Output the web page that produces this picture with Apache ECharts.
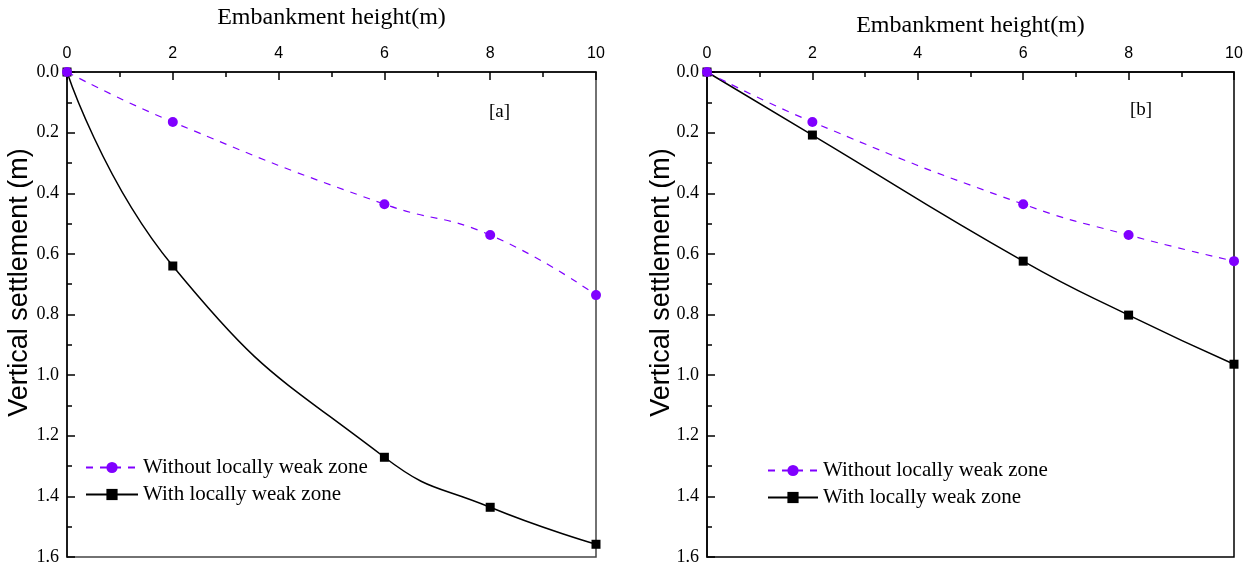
<!DOCTYPE html>
<html>
<head>
<meta charset="utf-8">
<script src="https://cdn.jsdelivr.net/npm/echarts@6/dist/echarts.min.js"></script>
<style>html,body{margin:0;padding:0;background:#fff}#c{width:1254px;height:568px}</style>
</head>
<body>
<div id="c"></div>
<script>
var heights = [0, 2, 6, 8, 10];
var aWithout = [0, 0.165, 0.436, 0.538, 0.736];
var aWith = [0, 0.640, 1.271, 1.436, 1.558];
var bWithout = [0, 0.165, 0.436, 0.538, 0.624];
var bWith = [0, 0.208, 0.624, 0.802, 0.964];
var nameWithout = 'Without locally weak zone';
var nameWith = 'With locally weak zone';
var xTitle = 'Embankment height(m)';
var yTitle = 'Vertical settlement (m)';
var panelLabels = ['[a]', '[b]'];

function pairs(xs, ys) { return xs.map(function (x, i) { return [x, ys[i]]; }); }

var serif = 'Liberation Serif';
var sans = 'Liberation Sans';
var purple = '#8000ff';

function xAx(gi, gap) {
  return {
    type: 'value', gridIndex: gi, position: 'top', min: 0, max: 10, interval: 2,
    name: xTitle, nameLocation: 'middle', nameGap: gap, nameMoveOverlap: false,
    nameTextStyle: { fontFamily: serif, fontSize: 24, color: '#000' },
    axisLine: { show: true, onZero: false, lineStyle: { color: '#000', width: 1.5 } },
    axisTick: { show: true, inside: true, length: 8, lineStyle: { color: '#000', width: 1.5 } },
    minorTick: { show: true, splitNumber: 2, length: 5, lineStyle: { color: '#000', width: 1.5 } },
    axisLabel: { fontFamily: sans, fontSize: 16, color: '#000', margin: 10 },
    splitLine: { show: false }
  };
}
function yAx(gi, gap) {
  return {
    type: 'value', gridIndex: gi, inverse: true, min: 0, max: 1.6, interval: 0.2,
    name: yTitle, nameLocation: 'middle', nameGap: gap, nameRotate: 90, nameMoveOverlap: false,
    nameTextStyle: { fontFamily: sans, fontSize: 27, color: '#000', padding: [0, 0, 0, 64] },
    axisLine: { show: true, onZero: false, lineStyle: { color: '#000', width: 1.5 } },
    axisTick: { show: true, inside: true, length: 8, lineStyle: { color: '#000', width: 1.5 } },
    minorTick: { show: true, splitNumber: 2, length: 5, lineStyle: { color: '#000', width: 1.5 } },
    axisLabel: { fontFamily: serif, fontSize: 18, color: '#000', margin: 8,
      formatter: function (v) { return v.toFixed(1); } },
    splitLine: { show: false }
  };
}
function sWithout(gi, data) {
  return {
    name: nameWithout, type: 'line', xAxisIndex: gi, yAxisIndex: gi, data: data,
    symbol: 'circle', symbolSize: 10, smooth: true,
    lineStyle: { color: purple, width: 1.2, type: [7, 7] },
    itemStyle: { color: purple }, z: 3
  };
}
function sWith(gi, data) {
  return {
    name: nameWith, type: 'line', xAxisIndex: gi, yAxisIndex: gi, data: data,
    symbol: 'rect', symbolSize: 9, smooth: true,
    lineStyle: { color: '#000', width: 1.5, type: 'solid' },
    itemStyle: { color: '#000' }, z: 2
  };
}
function leg(left, top, w) {
  return {
    left: left, top: top, orient: 'vertical', itemWidth: w, itemHeight: 14, itemGap: 6,
    data: [nameWithout, nameWith],
    textStyle: { fontFamily: serif, fontSize: 21, color: '#000' }
  };
}

var chart = echarts.init(document.getElementById('c'), null, { renderer: 'canvas' });
chart.setOption({
  animation: false,
  backgroundColor: '#fff',
  title: [
    { text: panelLabels[0], left: 484, top: 98, textStyle: { fontFamily: serif, fontSize: 19, fontWeight: 'normal', color: '#000' } },
    { text: panelLabels[1], left: 1125, top: 96, textStyle: { fontFamily: serif, fontSize: 19, fontWeight: 'normal', color: '#000' } }
  ],
  grid: [
    { left: 67, top: 72, width: 529, height: 485, outerBoundsMode: 'none', containLabel: false, show: true, borderColor: '#444', borderWidth: 1.5, backgroundColor: 'transparent' },
    { left: 707, top: 72, width: 527, height: 485, outerBoundsMode: 'none', containLabel: false, show: true, borderColor: '#000', borderWidth: 1.5, backgroundColor: 'transparent' }
  ],
  xAxis: [xAx(0, 42), xAx(1, 34)],
  yAxis: [yAx(0, 34), yAx(1, 32)],
  legend: [leg(80, 452, 52), leg(762, 455, 50)],
  series: [
    sWithout(0, pairs(heights, aWithout)),
    sWith(0, pairs(heights, aWith)),
    sWithout(1, pairs(heights, bWithout)),
    sWith(1, pairs(heights, bWith))
  ]
});
</script>
</body>
</html>
